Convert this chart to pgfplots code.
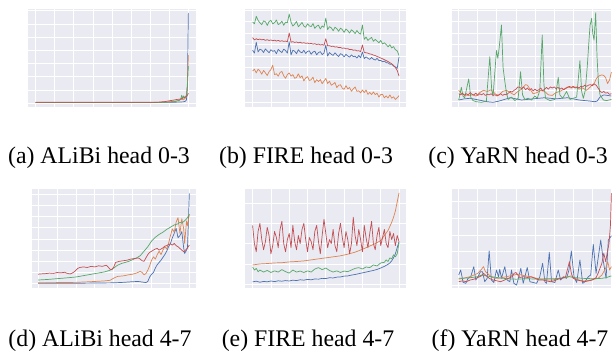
\documentclass[border=0pt]{standalone}
\usepackage{pgfplots}
\pgfplotsset{compat=1.18}
\usepackage{fontspec}
\setmainfont{Liberation Serif}
\definecolor{sblue}{HTML}{4C72B0}
\definecolor{sorange}{HTML}{DD8452}
\definecolor{sgreen}{HTML}{55A868}
\definecolor{sred}{HTML}{C44E52}
\definecolor{bgc}{HTML}{EAEAF2}
\pgfplotsset{
 sns/.style={
  scale only axis, anchor=south west,
  axis background/.style={fill=bgc},
  axis line style={draw=none},
  xmajorgrids, ymajorgrids,
  major grid style={white, line width=0.8pt},
  tick style={draw=none}, major tick length=0pt,
  xticklabels={}, yticklabels={},
  xtick={0,20,...,160},
  every axis plot/.append style={line width=0.7pt, mark=none, line join=round},
 }
}
\begin{document}
\begin{tikzpicture}
\useasboundingbox (0pt,0pt) rectangle (612pt,353pt);
% (a) ALiBi head 0-3
\begin{axis}[sns, at={(28pt,246.3pt)}, width=168pt, height=97.7pt,
  xmin=-8, xmax=168, ymin=-0.27, ymax=7.14, ytick={0,...,7}]
\addplot[sblue] coordinates {(0,0.05)(40,0.05)(80,0.05)(120,0.05)(140,0.06)(150,0.08)(155,0.1)(157,0.15)(158,0.25)(159,1.2)(160,6.85)};
\addplot[sorange] coordinates {(0,0.05)(120,0.05)(140,0.1)(146,0.15)(150,0.2)(153,0.3)(155,0.25)(157,0.4)(158,0.55)(159,1.5)(160,3.65)};
\addplot[sgreen] coordinates {(0,0.04)(130,0.05)(140,0.08)(146,0.12)(150,0.2)(152,0.3)(153,0.6)(154,0.35)(155,0.55)(156,0.4)(157,0.5)(158,0.6)(159,1.3)(160,2.8)};
\addplot[sred] coordinates {(0,0.06)(120,0.06)(130,0.08)(136,0.12)(140,0.18)(144,0.22)(148,0.28)(151,0.3)(154,0.38)(156,0.42)(158,0.5)(159,0.6)(160,0.75)};
\end{axis}
% (b) FIRE head 0-3
\begin{axis}[sns, at={(245pt,246.3pt)}, width=160.7pt, height=97.7pt,
  xmin=-8.3, xmax=167.3, ymin=-0.41, ymax=8.09, ytick={0,...,8}]
\addplot[sblue] coordinates {(0,4.5)(2,4.25)(4,5.2)(6,4.35)(8,4.6)(10,4.52)(12,4.3)(14,4.62)(16,4.45)(18,4.28)(20,4.55)(22,4.4)(24,4.48)(26,4.2)(28,4.58)(30,4.42)(32,4.3)(34,4.6)(36,4.48)(38,4.25)(40,5.25)(42,4.1)(44,4.5)(46,4.42)(48,4.2)(50,4.55)(52,4.35)(54,4.28)(56,4.5)(58,4.22)(60,4.4)(62,4.45)(64,4.15)(66,4.35)(68,4.42)(70,4.1)(72,4.3)(74,4.38)(76,4.12)(78,4.25)(80,4.95)(82,4.0)(84,4.3)(86,4.15)(88,4.05)(90,4.28)(92,4.1)(94,3.95)(96,4.2)(98,4.12)(100,3.92)(102,4.15)(104,4.0)(106,3.9)(108,4.1)(110,3.95)(112,3.98)(114,3.82)(116,4.05)(118,3.85)(120,4.35)(122,3.78)(124,3.92)(126,3.8)(128,3.7)(130,3.88)(132,3.72)(134,3.65)(136,3.8)(138,3.6)(140,3.62)(142,3.5)(144,3.55)(146,3.42)(148,3.4)(150,3.28)(152,3.3)(154,3.12)(156,3.05)(158,2.92)(160,3.9)};
\addplot[sorange] coordinates {(0,2.7)(2,2.85)(4,2.53)(6,2.86)(8,2.69)(10,2.42)(12,2.75)(14,2.53)(16,2.31)(18,2.64)(20,2.82)(22,3.2)(24,2.38)(26,2.46)(28,2.24)(30,2.57)(32,2.65)(34,2.28)(36,2.06)(38,2.39)(40,2.52)(42,2.25)(44,2.38)(46,2.06)(48,2.14)(50,2.45)(52,2.11)(54,2.27)(56,1.83)(58,2.09)(60,2.2)(62,1.87)(64,1.94)(66,2.16)(68,1.68)(70,1.95)(72,1.78)(74,1.96)(76,1.59)(78,1.82)(80,2.05)(82,1.61)(84,1.81)(86,1.46)(88,1.56)(90,1.7)(92,1.25)(94,1.45)(96,1.5)(98,1.2)(100,1.1)(102,1.42)(104,1.14)(106,1.26)(108,0.93)(110,1.15)(112,1.31)(114,0.92)(116,0.98)(118,0.79)(120,1.05)(122,0.82)(124,1.04)(126,0.66)(128,0.83)(130,0.65)(132,0.87)(134,0.64)(136,0.76)(138,0.43)(140,0.65)(142,0.66)(144,0.37)(146,0.53)(148,0.35)(150,0.62)(152,0.33)(154,0.45)(156,0.22)(158,0.37)(160,0.55)};
\addplot[sgreen] coordinates {(0,6.95)(2,6.8)(4,7.45)(6,7.1)(8,6.88)(10,6.72)(12,7.06)(14,6.98)(16,6.66)(18,7.0)(20,7.1)(22,6.8)(24,6.9)(26,7.13)(28,6.73)(30,6.83)(32,7.03)(34,6.67)(36,6.95)(38,6.9)(40,7.65)(42,6.95)(44,6.6)(46,6.78)(48,7.0)(50,6.55)(52,6.72)(54,6.92)(56,6.6)(58,6.5)(60,6.8)(62,6.62)(64,6.56)(66,6.82)(68,6.4)(70,6.6)(72,6.68)(74,6.35)(76,6.62)(78,6.5)(80,7.3)(82,6.3)(84,6.55)(86,6.45)(88,6.2)(90,6.5)(92,6.38)(94,6.15)(96,6.42)(98,6.3)(100,6.05)(102,6.35)(104,6.2)(106,6.0)(108,6.28)(110,6.15)(112,5.95)(114,6.22)(116,6.0)(118,5.9)(120,6.7)(122,5.45)(124,5.65)(126,5.35)(128,5.5)(130,5.62)(132,5.28)(134,5.45)(136,5.3)(138,5.15)(140,5.35)(142,5.05)(144,5.15)(146,5.0)(148,4.8)(150,4.98)(152,4.7)(154,4.82)(156,4.55)(158,4.45)(160,4.05)};
\addplot[sred] coordinates {(0,5.6)(2,5.4)(4,5.5)(6,5.42)(8,5.48)(10,5.4)(12,5.45)(14,5.36)(16,5.42)(18,5.35)(20,5.4)(22,5.33)(24,5.38)(26,5.3)(28,5.36)(30,5.28)(32,5.33)(34,5.27)(36,5.3)(38,5.24)(40,6.0)(42,5.2)(44,5.25)(46,5.18)(48,5.22)(50,5.15)(52,5.2)(54,5.12)(56,5.16)(58,5.1)(60,5.13)(62,5.06)(64,5.1)(66,5.03)(68,5.07)(70,5.0)(72,5.04)(74,4.96)(76,5.0)(78,4.93)(80,5.5)(82,4.88)(84,4.9)(86,4.83)(88,4.86)(90,4.78)(92,4.8)(94,4.73)(96,4.75)(98,4.67)(100,4.7)(102,4.62)(104,4.64)(106,4.56)(108,4.58)(110,4.5)(112,4.52)(114,4.44)(116,4.46)(118,4.38)(120,4.95)(122,4.32)(124,4.28)(126,4.25)(128,4.18)(130,4.15)(132,4.08)(134,4.04)(136,3.96)(138,3.9)(140,3.82)(142,3.76)(144,3.68)(146,3.6)(148,3.52)(150,3.42)(152,3.32)(154,3.18)(156,3.0)(158,2.75)(160,2.25)};
\end{axis}
% (c) YaRN head 0-3
\begin{axis}[sns, at={(452pt,245.7pt)}, width=168pt, height=98.3pt,
  xmin=-7, xmax=169, ymin=-0.49, ymax=8.13, ytick={0,...,8}]
\addplot[sblue] coordinates {(0,0.15)(6,0.25)(12,0.3)(18,0.2)(24,0.1)(30,0.0)(36,-0.05)(42,0.05)(48,0.2)(54,0.35)(60,0.25)(66,0.15)(72,0.2)(78,0.25)(84,0.3)(90,0.35)(96,0.3)(102,0.25)(108,0.3)(114,0.35)(120,0.25)(126,0.15)(132,0.1)(138,0.05)(142,0.0)(145,0.05)(148,0.4)(152,0.6)(156,0.55)(160,0.5)};
\addplot[sorange] coordinates {(0,1.0)(3,0.7)(6,0.6)(10,0.55)(14,0.6)(18,0.5)(22,0.8)(26,1.0)(30,0.9)(34,1.05)(38,0.7)(42,0.55)(46,0.9)(50,1.0)(54,0.8)(58,0.6)(62,0.9)(66,1.1)(70,1.5)(72,1.45)(74,1.2)(78,0.7)(82,0.8)(86,1.0)(90,0.9)(94,0.6)(98,0.55)(102,0.8)(106,0.9)(110,1.1)(114,1.3)(118,1.2)(122,1.3)(126,1.1)(130,1.2)(134,1.0)(138,1.3)(140,1.5)(142,1.6)(144,2.0)(146,2.2)(148,2.3)(150,2.35)(152,2.3)(154,2.1)(156,1.6)(158,1.9)(160,2.6)};
\addplot[sgreen] coordinates {(0,0.15)(2.8,1.26)(4.5,0.5)(6.3,0.35)(10.5,2.0)(12.6,0.4)(15,0.1)(18.6,0.0)(23.8,-0.05)(29,0.05)(32.6,3.95)(34.6,1.0)(36,0.5)(39.6,4.5)(41,3.8)(42.4,4.7)(44.8,6.73)(46.5,3.0)(48.3,1.8)(50,0.8)(51.8,0.2)(55.3,0.4)(58.8,0.1)(62.3,0.3)(64.8,2.63)(66.9,0.6)(69.3,0.2)(72.8,0.3)(76.3,0.15)(79.8,0.5)(82.3,0.3)(85,1.0)(87.5,5.85)(89.3,1.5)(91,0.3)(95.6,0.1)(100.8,0.2)(104.3,2.14)(106,0.6)(108.9,0.3)(113,0.9)(116.6,0.2)(120,0.3)(123.6,0.4)(127,3.6)(128.8,0.9)(130.6,0.3)(132.6,1.0)(134.8,3.2)(136.2,5.0)(137.6,6.7)(139.3,7.3)(140.4,6.0)(141.8,5.4)(143.5,7.8)(144.9,4.0)(146.3,1.8)(148,0.6)(151.6,0.15)(155,0.1)(160,0.2)};
\addplot[sred] coordinates {(0,0.7)(2,0.6)(4,0.75)(6,0.55)(8,0.7)(10,0.6)(12,0.8)(14,0.65)(16,0.6)(18,0.75)(20,0.55)(22,0.7)(24,0.6)(26,0.72)(28,0.55)(30,0.65)(32,0.6)(34,0.7)(36,0.55)(38,0.62)(40,0.5)(42,0.6)(44,0.7)(46,0.55)(48,0.65)(50,0.6)(52,0.75)(54,0.9)(56,0.85)(58,1.0)(60,1.1)(62,1.3)(64,1.25)(66,1.15)(68,1.3)(70,1.05)(72,1.2)(74,1.0)(76,1.15)(78,0.95)(80,1.1)(82,0.95)(84,1.05)(86,1.2)(88,0.95)(90,1.1)(92,1.25)(94,1.1)(96,1.3)(98,1.2)(100,1.3)(102,1.15)(104,1.25)(106,1.1)(108,1.2)(110,1.05)(112,1.15)(114,1.25)(116,1.35)(118,1.25)(120,1.35)(122,1.2)(124,1.3)(126,1.2)(128,1.35)(130,1.3)(132,1.45)(134,1.35)(136,1.45)(138,1.5)(140,1.4)(142,1.55)(144,1.45)(146,1.2)(148,0.95)(150,0.8)(152,0.9)(154,0.75)(156,0.8)(158,0.65)(160,0.7)};
\end{axis}
% (d) ALiBi head 4-7
\begin{axis}[sns, at={(31.7pt,64.7pt)}, width=164pt, height=99.3pt,
  xmin=-6.8, xmax=166.7, ymin=-0.41, ymax=8.46, ytick={0,...,8}]
\addplot[sblue] coordinates {(0,0.03)(40,0.04)(80,0.08)(90,0.12)(100,0.18)(106,0.2)(110,0.15)(114,0.1)(116,0.2)(118,0.6)(120,0.85)(122,1.0)(124,1.4)(126,1.7)(128,1.9)(130,2.1)(132,2.35)(134,2.6)(136,2.9)(138,3.3)(140,3.6)(142,4.1)(144,4.5)(146,4.95)(148,4.1)(150,4.3)(152,4.65)(154,3.2)(155,2.7)(157,3.0)(158,3.2)(160,8.07)};
\addplot[sorange] coordinates {(0,0.08)(20,0.1)(40,0.12)(60,0.2)(70,0.25)(76,0.3)(80,0.5)(84,0.65)(90,0.7)(96,0.8)(100,0.85)(104,0.95)(108,1.1)(110,1.0)(112,0.8)(114,0.9)(116,1.2)(118,1.6)(120,2.1)(122,2.4)(124,2.2)(126,2.6)(128,2.9)(130,2.6)(132,3.0)(134,3.3)(136,3.1)(138,3.6)(140,4.3)(142,4.9)(144,4.6)(146,5.5)(148,5.9)(150,4.5)(152,5.8)(154,4.9)(155,3.6)(157,5.6)(158,5.2)(160,6.2)};
\addplot[sgreen] coordinates {(0,0.33)(10,0.38)(20,0.45)(30,0.52)(40,0.6)(50,0.75)(60,0.9)(70,1.05)(76,1.2)(80,1.4)(84,1.65)(88,1.8)(92,1.9)(96,2.0)(100,2.15)(104,2.3)(108,2.5)(112,2.9)(116,3.3)(120,3.8)(124,4.15)(128,4.4)(132,4.6)(136,4.85)(140,5.05)(144,5.25)(148,5.35)(150,5.5)(152,5.42)(154,5.55)(156,5.7)(158,5.9)(160,6.2)};
\addplot[sred] coordinates {(0,0.85)(4,0.88)(8,0.9)(12,0.95)(16,0.92)(20,1.0)(24,0.97)(28,1.02)(30,0.95)(32,0.9)(34,0.87)(36,0.95)(38,1.05)(40,1.2)(42,1.37)(44,1.45)(48,1.5)(52,1.45)(56,1.55)(60,1.5)(64,1.6)(68,1.55)(72,1.65)(74,1.5)(76,1.3)(78,1.25)(80,1.5)(82,1.9)(86,2.0)(90,2.05)(94,2.1)(98,2.2)(102,2.25)(106,2.3)(108,2.2)(110,2.05)(112,2.0)(114,2.3)(116,2.6)(118,2.8)(120,2.9)(122,3.0)(124,3.1)(126,3.15)(128,3.0)(130,3.1)(132,3.2)(134,3.35)(136,3.4)(138,3.5)(140,3.55)(142,3.45)(144,3.6)(146,3.4)(148,3.3)(150,3.15)(152,3.0)(154,2.85)(156,3.0)(158,3.2)(160,3.45)};
\end{axis}
% (e) FIRE head 4-7
\begin{axis}[sns, at={(245pt,65.3pt)}, width=160.7pt, height=98.7pt,
  xmin=-8.3, xmax=167.3, ymin=-0.17, ymax=4.69, ytick={0,...,4}]
\addplot[sblue] coordinates {(0,0.12)(4,0.15)(8,0.1)(12,0.14)(16,0.12)(20,0.16)(24,0.13)(28,0.17)(32,0.15)(36,0.18)(40,0.16)(44,0.2)(48,0.18)(52,0.22)(56,0.2)(60,0.24)(64,0.22)(68,0.26)(72,0.25)(76,0.29)(80,0.28)(84,0.32)(88,0.31)(92,0.35)(96,0.36)(100,0.4)(104,0.41)(108,0.45)(112,0.48)(116,0.52)(120,0.56)(124,0.6)(128,0.64)(132,0.68)(136,0.73)(140,0.8)(144,0.88)(148,0.98)(150,1.05)(152,1.15)(154,1.3)(156,1.5)(158,1.8)(160,2.1)};
\addplot[sorange] coordinates {(0,0.95)(8,1.0)(16,1.02)(24,1.05)(32,1.06)(40,1.1)(48,1.12)(56,1.15)(64,1.2)(72,1.25)(80,1.3)(88,1.35)(96,1.4)(104,1.48)(112,1.58)(116,1.65)(120,1.72)(124,1.8)(128,1.88)(132,1.96)(136,2.05)(140,2.15)(144,2.4)(148,2.65)(150,2.85)(152,3.05)(154,3.3)(156,3.6)(158,4.05)(160,4.5)};
\addplot[sgreen] coordinates {(0,0.85)(2,0.7)(4,0.78)(6,0.62)(8,0.7)(12,0.6)(16,0.68)(20,0.58)(24,0.66)(28,0.6)(32,0.72)(36,0.62)(40,0.55)(44,0.7)(48,0.6)(52,0.65)(56,0.58)(60,0.66)(64,0.6)(68,0.75)(72,0.82)(76,0.72)(80,0.8)(84,0.68)(88,0.6)(92,0.66)(96,0.58)(100,0.65)(104,0.62)(108,0.7)(112,0.78)(116,0.82)(120,0.75)(124,0.85)(128,0.82)(132,0.95)(136,0.9)(140,1.05)(144,1.08)(146,1.2)(148,1.12)(150,1.3)(152,1.25)(154,1.45)(156,1.35)(158,1.5)(160,2.05)};
\addplot[sred] coordinates {(0,2.9)(2,2.0)(4,1.6)(6,2.6)(8,3.0)(10,2.2)(12,1.7)(14,2.1)(16,2.8)(18,2.4)(20,1.5)(22,1.9)(24,2.6)(26,2.3)(28,1.8)(30,2.7)(32,3.1)(34,2.0)(36,1.6)(38,2.2)(40,2.5)(42,1.8)(44,2.9)(46,2.1)(48,1.7)(50,2.4)(52,2.0)(54,2.7)(56,3.0)(58,2.2)(60,1.6)(62,2.3)(64,2.1)(66,1.7)(68,2.6)(70,2.9)(72,2.1)(74,1.5)(76,2.4)(78,3.2)(80,2.5)(82,1.8)(84,2.2)(86,2.0)(88,2.7)(90,1.9)(92,1.6)(94,2.5)(96,3.0)(98,2.3)(100,1.8)(102,2.6)(104,2.2)(106,1.5)(108,2.0)(110,3.3)(112,2.4)(114,1.9)(116,2.7)(118,2.2)(120,1.6)(122,2.9)(124,2.3)(126,1.8)(128,2.5)(130,3.1)(132,2.0)(134,1.7)(136,2.4)(138,2.8)(140,1.9)(142,2.3)(144,2.7)(146,2.0)(148,1.8)(150,2.6)(152,2.2)(154,2.5)(156,1.9)(158,2.4)(160,2.1)};
\end{axis}
% (f) YaRN head 4-7
\begin{axis}[sns, at={(452pt,65.3pt)}, width=168pt, height=98.7pt,
  xmin=-7, xmax=169, ymin=-0.16, ymax=5.75, ytick={0,...,5}]
\addplot[sblue] coordinates {(0,0.6)(2.1,0.9)(4.6,0.17)(7.4,0.1)(9.8,0.4)(12.6,0.5)(15.8,1.1)(17.9,0.3)(20.3,0.5)(22.8,0.8)(24.9,0.8)(27.3,0.2)(29.8,0.4)(31.9,2.04)(34.3,0.3)(36.8,0.15)(39.6,0.9)(41.7,0.5)(43,0.95)(44.8,0.4)(48.3,1.1)(50.8,0.3)(53.6,0.2)(55.3,0.9)(57.8,0.1)(60.6,0.0)(63,0.5)(65.1,1.0)(67.6,0.1)(71.8,1.05)(74.6,0.2)(78,0.15)(81.6,0.1)(85,0.5)(87.9,1.3)(90.3,0.2)(92,0.1)(94.9,1.96)(97.3,0.2)(100.8,0.15)(104.3,0.9)(106.8,0.3)(109.6,0.5)(113,0.4)(115.5,0.9)(118,2.04)(120.8,0.5)(123.6,0.15)(127,1.5)(129.9,0.1)(132.3,0.2)(135.8,0.5)(138.3,0.6)(141,2.44)(143.9,0.7)(146.3,1.7)(148.8,2.7)(151.6,1.4)(154.4,0.4)(156.8,2.7)(160,2.95)};
\addplot[sorange] coordinates {(0,0.35)(4,0.4)(8,0.45)(12,0.5)(16,0.6)(20,0.7)(24,0.95)(26,1.1)(28,0.8)(30,0.7)(34,0.5)(38,0.4)(42,0.4)(46,0.45)(50,0.5)(54,0.55)(58,0.6)(62,0.65)(66,0.6)(70,0.55)(74,0.5)(78,0.45)(82,0.4)(86,0.35)(90,0.35)(94,0.3)(98,0.3)(102,0.35)(106,0.4)(110,0.45)(114,0.5)(118,0.55)(122,0.4)(126,0.3)(130,0.25)(134,0.25)(138,0.3)(142,0.35)(146,0.4)(150,0.6)(152,0.8)(154,1.0)(156,1.4)(157,1.2)(158,0.9)(160,1.1)};
\addplot[sgreen] coordinates {(0,0.4)(10,0.42)(20,0.5)(24,0.6)(28,0.55)(34,0.5)(40,0.45)(50,0.38)(60,0.35)(70,0.38)(80,0.36)(90,0.37)(100,0.38)(110,0.42)(116,0.5)(120,0.45)(130,0.4)(140,0.38)(150,0.4)(155,0.45)(160,0.55)};
\addplot[sred] coordinates {(0,0.2)(4,0.25)(8,0.2)(12,0.3)(16,0.35)(20,0.45)(24,0.55)(26,0.7)(28,0.6)(32,0.4)(36,0.3)(40,0.25)(44,0.2)(48,0.3)(52,0.4)(56,0.5)(58,0.7)(60,0.75)(62,0.6)(64,0.45)(68,0.5)(72,0.45)(76,0.5)(80,0.4)(84,0.3)(88,0.3)(92,0.25)(96,0.2)(100,0.25)(104,0.35)(108,0.4)(112,0.5)(116,1.4)(118,0.7)(120,0.4)(124,0.3)(128,0.25)(132,0.2)(136,0.25)(140,0.3)(144,0.45)(146,0.7)(148,1.0)(150,1.3)(152,1.9)(154,1.4)(155.5,1.9)(157.5,2.5)(159,3.6)(160,5.49)};
\end{axis}
% captions
\begin{scope}[every node/.style={anchor=base, inner sep=0pt, font=\fontsize{23.8}{28}\selectfont}]
\node at (99pt,189pt) {(a) ALiBi head 0-3};
\node at (306pt,189pt) {(b) FIRE head 0-3};
\node at (518pt,189pt) {(c) YaRN head 0-3};
\node at (100pt,7pt) {(d) ALiBi head 4-7};
\node at (308pt,7pt) {(e) FIRE head 4-7};
\node at (520pt,7pt) {(f) YaRN head 4-7};
\end{scope}
\end{tikzpicture}
\end{document}
